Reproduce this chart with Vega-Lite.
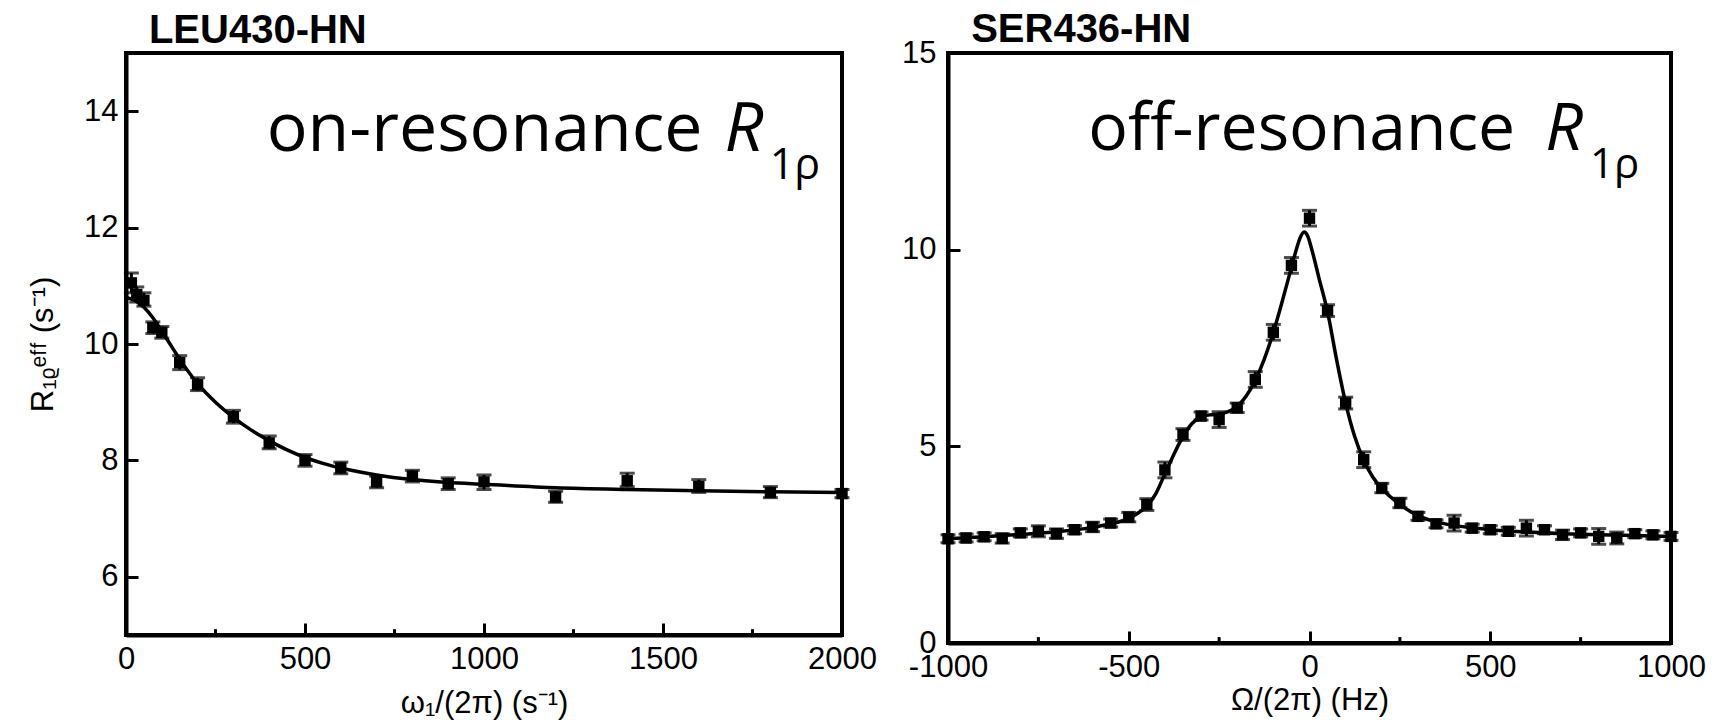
{
  "$schema": "https://vega.github.io/schema/vega-lite/v6.json",
  "background": "white",
  "padding": {"left": 25, "top": 7, "right": 10, "bottom": 0},
  "bounds": "flush",
  "spacing": 106,
  "config": {
    "font": "Liberation Sans",
    "view": {"stroke": "black", "strokeWidth": 4},
    "axis": {
      "domainColor": "black", "domainWidth": 4, "tickColor": "black", "tickWidth": 3, "tickSize": -12,
      "labelFont": "Liberation Sans", "labelFontSize": 31, "labelColor": "black",
      "titleFont": "Liberation Sans", "titleFontSize": 31, "titleFontWeight": "normal", "titleColor": "black",
      "grid": false, "labelFlush": false, "labelOverlap": false
    }
  },
  "datasets": {
    "leftPts": [
      {"x": 15, "y": 11.05, "lo": 10.88, "hi": 11.22},
      {"x": 30, "y": 10.85, "lo": 10.72, "hi": 10.98},
      {"x": 50, "y": 10.75, "lo": 10.65, "hi": 10.88},
      {"x": 75, "y": 10.28, "lo": 10.18, "hi": 10.38},
      {"x": 100, "y": 10.2, "lo": 10.1, "hi": 10.3},
      {"x": 150, "y": 9.68, "lo": 9.56, "hi": 9.8},
      {"x": 200, "y": 9.3, "lo": 9.2, "hi": 9.42},
      {"x": 300, "y": 8.75, "lo": 8.64, "hi": 8.86},
      {"x": 400, "y": 8.3, "lo": 8.2, "hi": 8.42},
      {"x": 500, "y": 8.0, "lo": 7.9, "hi": 8.1},
      {"x": 600, "y": 7.87, "lo": 7.77, "hi": 7.97},
      {"x": 700, "y": 7.63, "lo": 7.53, "hi": 7.73},
      {"x": 800, "y": 7.73, "lo": 7.63, "hi": 7.83},
      {"x": 900, "y": 7.6, "lo": 7.5, "hi": 7.7},
      {"x": 1000, "y": 7.63, "lo": 7.5, "hi": 7.75},
      {"x": 1200, "y": 7.37, "lo": 7.28, "hi": 7.47},
      {"x": 1400, "y": 7.65, "lo": 7.55, "hi": 7.78},
      {"x": 1600, "y": 7.55, "lo": 7.45, "hi": 7.67},
      {"x": 1800, "y": 7.45, "lo": 7.36, "hi": 7.55},
      {"x": 2000, "y": 7.43, "lo": 7.36, "hi": 7.5}
    ],
    "leftFit": [
      {"x": 0, "y": 10.8}, {"x": 25, "y": 10.75}, {"x": 50, "y": 10.63}, {"x": 75, "y": 10.45},
      {"x": 100, "y": 10.22}, {"x": 125, "y": 9.98}, {"x": 150, "y": 9.74}, {"x": 200, "y": 9.32},
      {"x": 250, "y": 9.0}, {"x": 300, "y": 8.74}, {"x": 350, "y": 8.52}, {"x": 400, "y": 8.34},
      {"x": 450, "y": 8.18}, {"x": 500, "y": 8.05}, {"x": 550, "y": 7.95}, {"x": 600, "y": 7.87},
      {"x": 700, "y": 7.75}, {"x": 800, "y": 7.67}, {"x": 900, "y": 7.62}, {"x": 1000, "y": 7.59},
      {"x": 1200, "y": 7.53}, {"x": 1400, "y": 7.5}, {"x": 1600, "y": 7.48}, {"x": 1800, "y": 7.46},
      {"x": 2000, "y": 7.45}
    ],
    "rightPts": [
      {"x": -1000, "y": 2.65, "lo": 2.55, "hi": 2.75},
      {"x": -950, "y": 2.67, "lo": 2.57, "hi": 2.77},
      {"x": -900, "y": 2.7, "lo": 2.6, "hi": 2.8},
      {"x": -850, "y": 2.66, "lo": 2.54, "hi": 2.78},
      {"x": -800, "y": 2.8, "lo": 2.7, "hi": 2.9},
      {"x": -750, "y": 2.84, "lo": 2.7, "hi": 2.98},
      {"x": -700, "y": 2.78, "lo": 2.66, "hi": 2.9},
      {"x": -650, "y": 2.88, "lo": 2.78, "hi": 2.98},
      {"x": -600, "y": 2.95, "lo": 2.83, "hi": 3.07},
      {"x": -550, "y": 3.05, "lo": 2.95, "hi": 3.15},
      {"x": -500, "y": 3.2, "lo": 3.08, "hi": 3.32},
      {"x": -450, "y": 3.52, "lo": 3.37, "hi": 3.67},
      {"x": -400, "y": 4.4, "lo": 4.2, "hi": 4.6},
      {"x": -350, "y": 5.3, "lo": 5.15, "hi": 5.45},
      {"x": -300, "y": 5.77, "lo": 5.67, "hi": 5.87},
      {"x": -250, "y": 5.68, "lo": 5.48, "hi": 5.88},
      {"x": -200, "y": 5.98, "lo": 5.86, "hi": 6.1},
      {"x": -150, "y": 6.7, "lo": 6.5, "hi": 6.9},
      {"x": -100, "y": 7.9, "lo": 7.7, "hi": 8.1},
      {"x": -50, "y": 9.6, "lo": 9.4, "hi": 9.8},
      {"x": 0, "y": 10.8, "lo": 10.6, "hi": 11.0},
      {"x": 50, "y": 8.45, "lo": 8.3, "hi": 8.6},
      {"x": 100, "y": 6.1, "lo": 5.95, "hi": 6.25},
      {"x": 150, "y": 4.66, "lo": 4.46, "hi": 4.86},
      {"x": 200, "y": 3.94, "lo": 3.82, "hi": 4.06},
      {"x": 250, "y": 3.56, "lo": 3.44, "hi": 3.68},
      {"x": 300, "y": 3.22, "lo": 3.12, "hi": 3.32},
      {"x": 350, "y": 3.03, "lo": 2.93, "hi": 3.13},
      {"x": 400, "y": 3.05, "lo": 2.85, "hi": 3.25},
      {"x": 450, "y": 2.92, "lo": 2.82, "hi": 3.02},
      {"x": 500, "y": 2.88, "lo": 2.78, "hi": 2.98},
      {"x": 550, "y": 2.84, "lo": 2.74, "hi": 2.94},
      {"x": 600, "y": 2.92, "lo": 2.72, "hi": 3.12},
      {"x": 650, "y": 2.88, "lo": 2.78, "hi": 2.98},
      {"x": 700, "y": 2.75, "lo": 2.63, "hi": 2.87},
      {"x": 750, "y": 2.8, "lo": 2.7, "hi": 2.9},
      {"x": 800, "y": 2.71, "lo": 2.51, "hi": 2.91},
      {"x": 850, "y": 2.67, "lo": 2.52, "hi": 2.82},
      {"x": 900, "y": 2.78, "lo": 2.68, "hi": 2.88},
      {"x": 950, "y": 2.75, "lo": 2.65, "hi": 2.85},
      {"x": 1000, "y": 2.71, "lo": 2.61, "hi": 2.81}
    ],
    "rightFit": [
      {"x": -1000, "y": 2.65}, {"x": -900, "y": 2.7}, {"x": -800, "y": 2.76}, {"x": -700, "y": 2.83},
      {"x": -600, "y": 2.94}, {"x": -550, "y": 3.03}, {"x": -500, "y": 3.17}, {"x": -475, "y": 3.3},
      {"x": -450, "y": 3.48}, {"x": -425, "y": 3.8}, {"x": -400, "y": 4.3}, {"x": -375, "y": 4.8},
      {"x": -350, "y": 5.25}, {"x": -325, "y": 5.58}, {"x": -300, "y": 5.75}, {"x": -275, "y": 5.8},
      {"x": -250, "y": 5.82}, {"x": -225, "y": 5.88}, {"x": -200, "y": 6.02}, {"x": -175, "y": 6.28},
      {"x": -150, "y": 6.68}, {"x": -125, "y": 7.22}, {"x": -100, "y": 7.9}, {"x": -75, "y": 8.7},
      {"x": -50, "y": 9.55}, {"x": -35, "y": 10.05}, {"x": -25, "y": 10.32}, {"x": -15, "y": 10.45},
      {"x": -5, "y": 10.35}, {"x": 5, "y": 10.05}, {"x": 15, "y": 9.7}, {"x": 25, "y": 9.32},
      {"x": 50, "y": 8.42}, {"x": 75, "y": 7.2}, {"x": 100, "y": 6.1}, {"x": 125, "y": 5.25},
      {"x": 150, "y": 4.65}, {"x": 175, "y": 4.22}, {"x": 200, "y": 3.93}, {"x": 250, "y": 3.52},
      {"x": 300, "y": 3.24}, {"x": 350, "y": 3.08}, {"x": 400, "y": 2.99}, {"x": 450, "y": 2.93},
      {"x": 500, "y": 2.88}, {"x": 600, "y": 2.82}, {"x": 700, "y": 2.78}, {"x": 800, "y": 2.75},
      {"x": 900, "y": 2.73}, {"x": 1000, "y": 2.71}
    ],
    "leftMinorX": [{"v": 250}, {"v": 750}, {"v": 1250}, {"v": 1750}],
    "leftMinorY": [{"v": 7}, {"v": 9}, {"v": 11}, {"v": 13}],
    "rightMinorX": [{"v": -750}, {"v": -250}, {"v": 250}, {"v": 750}],
    "rightMinorY": [{"v": 2.5}, {"v": 7.5}, {"v": 12.5}]
  },
  "hconcat": [
    {
      "width": 716,
      "height": 582,
      "encoding": {
        "x": {"field": "x", "type": "quantitative", "scale": {"domain": [0, 2000], "nice": false, "zero": false},
          "axis": {"title": "ω₁/(2π) (s⁻¹)", "values": [0, 500, 1000, 1500, 2000], "format": "d",
            "labelPadding": 21, "titlePadding": 14}}
      },
      "layer": [
        {
          "data": {"name": "leftPts"},
          "mark": {"type": "rule", "color": "black", "strokeWidth": 3},
          "encoding": {
            "y": {"field": "lo", "type": "quantitative", "scale": {"domain": [5, 15], "nice": false, "zero": false},
              "axis": {"title": "R₁ᵨᵉᶠᶠ (s⁻¹)", "values": [6, 8, 10, 12, 14], "format": "d",
                "labelPadding": 20, "titlePadding": 24}},
            "y2": {"field": "hi"}
          }
        },
        {
          "data": {"name": "leftPts"},
          "mark": {"type": "tick", "orient": "horizontal", "color": "black", "size": 15, "thickness": 3},
          "encoding": {"y": {"field": "lo", "type": "quantitative"}}
        },
        {
          "data": {"name": "leftPts"},
          "mark": {"type": "tick", "orient": "horizontal", "color": "black", "size": 15, "thickness": 3},
          "encoding": {"y": {"field": "hi", "type": "quantitative"}}
        },
        {
          "data": {"name": "leftPts"},
          "mark": {"type": "square", "color": "black", "filled": true, "opacity": 1, "size": 130},
          "encoding": {"y": {"field": "y", "type": "quantitative"}}
        },
        {
          "data": {"name": "leftFit"},
          "mark": {"type": "line", "color": "black", "strokeWidth": 3.5, "interpolate": "monotone"},
          "encoding": {"y": {"field": "y", "type": "quantitative"}}
        },
        {
          "data": {"name": "leftMinorX"},
          "mark": {"type": "rule", "color": "black", "strokeWidth": 3},
          "encoding": {"x": {"field": "v", "type": "quantitative"}, "y": {"datum": 5, "type": "quantitative"}, "y2": {"datum": 5.1}}
        },
        {
          "data": {"name": "leftMinorY"},
          "mark": {"type": "rule", "color": "black", "strokeWidth": 3},
          "encoding": {"y": {"field": "v", "type": "quantitative"}, "x": {"datum": 0, "type": "quantitative"}, "x2": {"datum": 17}}
        },
        {
          "data": {"values": [{"t": "LEU430-HN", "px": 64, "py": 15.17}]},
          "mark": {"type": "text", "font": "Liberation Sans", "fontSize": 40, "fontWeight": "bold", "align": "left", "baseline": "alphabetic", "color": "black"},
          "encoding": {"x": {"field": "px", "type": "quantitative"}, "y": {"field": "py", "type": "quantitative"}, "text": {"field": "t"}}
        },
        {
          "data": {"values": [{"t": "on-resonance", "px": 393, "py": 13.32}]},
          "mark": {"type": "text", "font": "Open Sans", "fontSize": 68, "align": "left", "baseline": "alphabetic", "color": "black"},
          "encoding": {"x": {"field": "px", "type": "quantitative"}, "y": {"field": "py", "type": "quantitative"}, "text": {"field": "t"}}
        },
        {
          "data": {"values": [{"t": "R", "px": 1672, "py": 13.32}]},
          "mark": {"type": "text", "font": "Open Sans", "fontSize": 68, "fontStyle": "italic", "align": "left", "baseline": "alphabetic", "color": "black"},
          "encoding": {"x": {"field": "px", "type": "quantitative"}, "y": {"field": "py", "type": "quantitative"}, "text": {"field": "t"}}
        },
        {
          "data": {"values": [{"t": "1ρ", "px": 1798, "py": 12.84}]},
          "mark": {"type": "text", "font": "Open Sans", "fontSize": 43, "align": "left", "baseline": "alphabetic", "color": "black"},
          "encoding": {"x": {"field": "px", "type": "quantitative"}, "y": {"field": "py", "type": "quantitative"}, "text": {"field": "t"}}
        }
      ]
    },
    {
      "width": 723,
      "height": 590,
      "encoding": {
        "x": {"field": "x", "type": "quantitative", "scale": {"domain": [-1000, 1000], "nice": false, "zero": false},
          "axis": {"title": "Ω/(2π) (Hz)", "values": [-1000, -500, 0, 500, 1000], "labelExpr": "'' + datum.value",
            "labelPadding": 21, "titlePadding": 3}}
      },
      "layer": [
        {
          "data": {"name": "rightPts"},
          "mark": {"type": "rule", "color": "black", "strokeWidth": 3},
          "encoding": {
            "y": {"field": "lo", "type": "quantitative", "scale": {"domain": [0, 15], "nice": false, "zero": false},
              "axis": {"title": null, "values": [0, 5, 10, 15], "format": "d", "labelPadding": 24}},
            "y2": {"field": "hi"}
          }
        },
        {
          "data": {"name": "rightPts"},
          "mark": {"type": "tick", "orient": "horizontal", "color": "black", "size": 15, "thickness": 3},
          "encoding": {"y": {"field": "lo", "type": "quantitative"}}
        },
        {
          "data": {"name": "rightPts"},
          "mark": {"type": "tick", "orient": "horizontal", "color": "black", "size": 15, "thickness": 3},
          "encoding": {"y": {"field": "hi", "type": "quantitative"}}
        },
        {
          "data": {"name": "rightPts"},
          "mark": {"type": "square", "color": "black", "filled": true, "opacity": 1, "size": 130},
          "encoding": {"y": {"field": "y", "type": "quantitative"}}
        },
        {
          "data": {"name": "rightFit"},
          "mark": {"type": "line", "color": "black", "strokeWidth": 3.5, "interpolate": "monotone"},
          "encoding": {"y": {"field": "y", "type": "quantitative"}}
        },
        {
          "data": {"name": "rightMinorX"},
          "mark": {"type": "rule", "color": "black", "strokeWidth": 3},
          "encoding": {"x": {"field": "v", "type": "quantitative"}, "y": {"datum": 0, "type": "quantitative"}, "y2": {"datum": 0.15}}
        },
        {
          "data": {"name": "rightMinorY"},
          "mark": {"type": "rule", "color": "black", "strokeWidth": 3},
          "encoding": {"y": {"field": "v", "type": "quantitative"}, "x": {"datum": -1000, "type": "quantitative"}, "x2": {"datum": -984}}
        },
        {
          "data": {"values": [{"t": "SER436-HN", "px": -936, "py": 15.28}]},
          "mark": {"type": "text", "font": "Liberation Sans", "fontSize": 40, "fontWeight": "bold", "align": "left", "baseline": "alphabetic", "color": "black"},
          "encoding": {"x": {"field": "px", "type": "quantitative"}, "y": {"field": "py", "type": "quantitative"}, "text": {"field": "t"}}
        },
        {
          "data": {"values": [{"t": "off-resonance", "px": -612, "py": 12.53}]},
          "mark": {"type": "text", "font": "Open Sans", "fontSize": 66, "align": "left", "baseline": "alphabetic", "color": "black"},
          "encoding": {"x": {"field": "px", "type": "quantitative"}, "y": {"field": "py", "type": "quantitative"}, "text": {"field": "t"}}
        },
        {
          "data": {"values": [{"t": "R", "px": 652, "py": 12.53}]},
          "mark": {"type": "text", "font": "Open Sans", "fontSize": 66, "fontStyle": "italic", "align": "left", "baseline": "alphabetic", "color": "black"},
          "encoding": {"x": {"field": "px", "type": "quantitative"}, "y": {"field": "py", "type": "quantitative"}, "text": {"field": "t"}}
        },
        {
          "data": {"values": [{"t": "1ρ", "px": 776, "py": 11.82}]},
          "mark": {"type": "text", "font": "Open Sans", "fontSize": 42, "align": "left", "baseline": "alphabetic", "color": "black"},
          "encoding": {"x": {"field": "px", "type": "quantitative"}, "y": {"field": "py", "type": "quantitative"}, "text": {"field": "t"}}
        }
      ]
    }
  ]
}
